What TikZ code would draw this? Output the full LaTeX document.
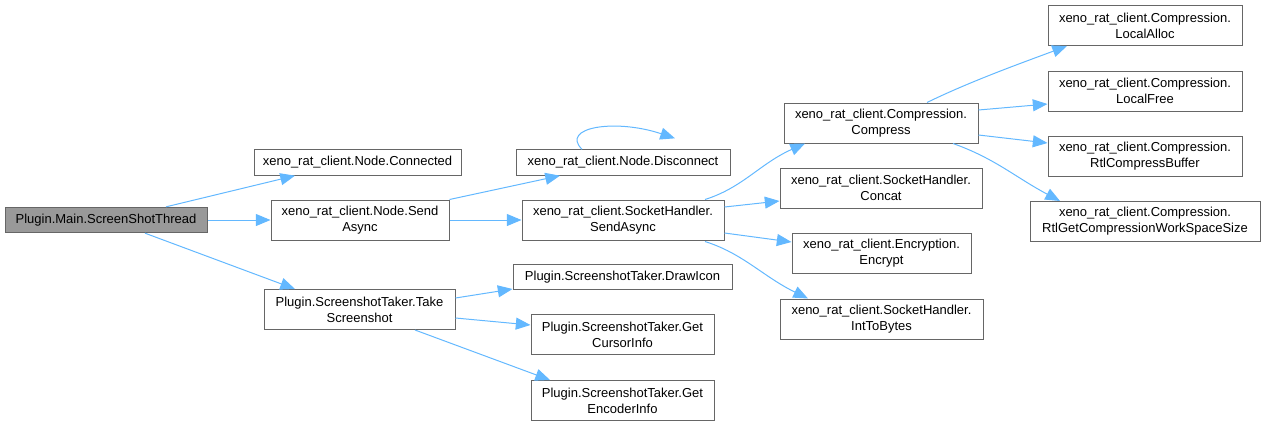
\documentclass[tikz,border=0pt]{standalone}
\usepackage{fontspec}
\setmainfont{Liberation Sans}
\usetikzlibrary{arrows.meta,calc}
\definecolor{edgeblue}{HTML}{63B8FF}
\definecolor{boxline}{HTML}{666666}
\definecolor{mainfill}{HTML}{999999}
\tikzset{
  fn/.style={draw=boxline, line width=0.75pt, fill=white, inner sep=0pt, align=center,
    font=\fontsize{9.75}{12}\selectfont, minimum height=30pt},
  fnone/.style={fn, minimum height=19pt},
  call/.style={draw=edgeblue, line width=0.75pt, -{Triangle[length=11pt,width=9pt]}}
}
\begin{document}
\begin{tikzpicture}[x=0.75pt,y=0.75pt,yscale=-1,xscale=1]
        \useasboundingbox (0,0) rectangle (1265,426);

        % functions
        \node [fnone, fill=mainfill, minimum width=151.5pt] (main) at (106,220) {Plugin.Main.ScreenShotThread};
        \node [fnone, minimum width=155.25pt] (connected) at (357.5,162.5) {xeno\_rat\_client.Node.Connected};
        \node [fn, minimum width=133.5pt] (nsend) at (360,220) {xeno\_rat\_client.Node.Send\\Async};
        \node [fn, minimum width=143.25pt] (take) at (359.5,309.5) {Plugin.ScreenshotTaker.Take\\Screenshot};
        \node [fnone, minimum width=160.5pt] (disc) at (623,162.5) {xeno\_rat\_client.Node.Disconnect};
        \node [fn, minimum width=151.5pt] (shsend) at (623,220) {xeno\_rat\_client.SocketHandler.\\SendAsync};
        \node [fnone, minimum width=164.25pt] (drawicon) at (622.5,277) {Plugin.ScreenshotTaker.DrawIcon};
        \node [fn, minimum width=137.25pt] (cursor) at (622.5,334.5) {Plugin.ScreenshotTaker.Get\\CursorInfo};
        \node [fn, minimum width=137.25pt] (encoder) at (622.5,400.5) {Plugin.ScreenshotTaker.Get\\EncoderInfo};
        \node [fn, minimum width=145.5pt] (compress) at (881,123) {xeno\_rat\_client.Compression.\\Compress};
        \node [fn, minimum width=151.5pt] (concat) at (881,188) {xeno\_rat\_client.SocketHandler.\\Concat};
        \node [fn, minimum width=134.25pt] (encrypt) at (881.5,253) {xeno\_rat\_client.Encryption.\\Encrypt};
        \node [fn, minimum width=152.25pt] (inttobytes) at (881.5,319) {xeno\_rat\_client.SocketHandler.\\IntToBytes};
        \node [fn, minimum width=145.5pt] (localalloc) at (1145,25.5) {xeno\_rat\_client.Compression.\\LocalAlloc};
        \node [fn, minimum width=145.5pt] (localfree) at (1145,91) {xeno\_rat\_client.Compression.\\LocalFree};
        \node [fn, minimum width=145.5pt] (rtlbuffer) at (1145,156) {xeno\_rat\_client.Compression.\\RtlCompressBuffer};
        \node [fn, minimum width=172.5pt] (rtlsize) at (1145,221.5) {xeno\_rat\_client.Compression.\\RtlGetCompressionWorkSpaceSize};

        % calls
        \draw [call] ($(main.north)+(60,0)$) -- ($(connected.south)+(-62.5,0)$);
        \draw [call] (main.east) -- (nsend.west);
        \draw [call] ($(main.south)+(39,0)$) -- ($(take.north)+(-64.5,0)$);
        \draw [call] (nsend.north east) -- ($(disc.south)+(-63,0)$);
        \draw [call] (nsend.east) -- (shsend.west);
        % recursive call
        \coordinate (loopend) at ($(disc.north)+(52,-11)$);
        \draw [call] ($(disc.north)+(-41,0)$) .. controls +(-22,-22) and +(-60,-20) .. (loopend);
        \draw [call] ($(shsend.north)+(82,0)$) .. controls +(38,-12) and +(-45,20) .. ($(compress.south)+(-76,0)$);
        \draw [call] ($(shsend.east)+(0,-13)$) -- ($(concat.west)+(0,13)$);
        \draw [call] ($(shsend.east)+(0,13)$) -- ($(encrypt.west)+(0,-11)$);
        \draw [call] ($(shsend.south)+(82,1)$) .. controls +(38,12) and +(-45,-22) .. ($(inttobytes.north)+(-73.5,0)$);
        \draw [call] ($(take.east)+(0,-11.5)$) -- ($(drawicon.west)+(0,12)$);
        \draw [call] ($(take.east)+(0,8.5)$) -- ($(cursor.west)+(0,-9.5)$);
        \draw [call] ($(take.south)+(55.5,0)$) -- ($(encoder.north)+(-72.5,0)$);
        \draw [call] ($(compress.north)+(46,0)$) .. controls +(45,-22) and +(-40,15) .. ($(localalloc.south)+(-78,0)$);
        \draw [call] ($(compress.east)+(0,-13)$) -- ($(localfree.west)+(0,13)$);
        \draw [call] ($(compress.east)+(0,12)$) -- ($(rtlbuffer.west)+(0,-13)$);
        \draw [call] ($(compress.south)+(72,0)$) .. controls +(42,15) and +(-45,-24) .. ($(rtlsize.north)+(-85,0)$);
\end{tikzpicture}
\end{document}
